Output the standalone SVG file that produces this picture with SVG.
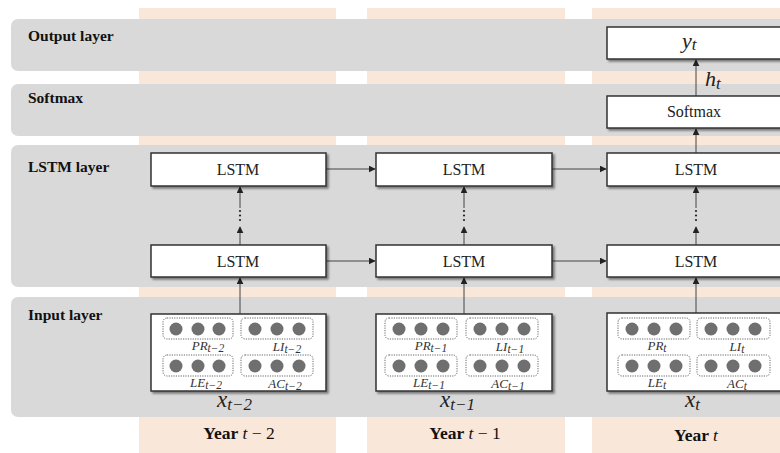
<svg xmlns="http://www.w3.org/2000/svg" width="780" height="453" viewBox="0 0 780 453">
  <defs>
    <marker id="arr" viewBox="0 0 10 10" refX="9" refY="5" markerWidth="7" markerHeight="7" orient="auto" markerUnits="userSpaceOnUse">
      <path d="M0,0 L10,5 L0,10 z" fill="#222"/>
    </marker>
    <filter id="sh" x="-5%" y="-10%" width="115%" height="130%">
      <feGaussianBlur in="SourceAlpha" stdDeviation="1.2"/>
      <feOffset dx="1.5" dy="1.5" result="o"/>
      <feComponentTransfer><feFuncA type="linear" slope="0.45"/></feComponentTransfer>
      <feMerge><feMergeNode/><feMergeNode in="SourceGraphic"/></feMerge>
    </filter>
  </defs>
  <style>
    .col { fill: #f9e7da; }
    .band { fill: #d9d9d9; }
    .lbl { font-family: "Liberation Serif", "Times New Roman", serif; font-weight: bold; font-size: 15.5px; fill: #111; }
    .box { fill: #fff; stroke: #333; stroke-width: 1.5; }
    .txt { font-family: "Liberation Serif", "Times New Roman", serif; font-size: 16px; fill: #222; text-anchor: middle; }
    .math { font-family: "Liberation Serif", "DejaVu Serif", serif; font-style: italic; fill: #222; }
    .grp { fill: none; stroke: #666; stroke-width: 1; stroke-dasharray: 1.2 1.2; }
    .dot { fill: #6f6f6f; }
    .sub { font-family: "Liberation Serif", "DejaVu Serif", serif; font-style: italic; font-size: 13px; fill: #333; text-anchor: middle; }
    .edge { stroke: #444; stroke-width: 1; fill: none; marker-end: url(#arr); }
    .yr { font-family: "Liberation Serif", "Times New Roman", serif; font-size: 17.5px; fill: #111; text-anchor: middle; }
  </style>

  <!-- time-step columns -->
  <g id="columns">
    <rect class="col" x="139" y="8" width="197" height="445"/>
    <rect class="col" x="367" y="8" width="198" height="445"/>
    <rect class="col" x="592" y="8" width="188" height="445"/>
  </g>

  <!-- layer bands -->
  <g id="bands">
    <rect class="band" x="11" y="19" width="790" height="52" rx="7"/>
    <rect class="band" x="11" y="84" width="790" height="52" rx="7"/>
    <rect class="band" x="11" y="145" width="790" height="142" rx="7"/>
    <rect class="band" x="11" y="297" width="790" height="120" rx="7"/>
    <text class="lbl" x="28" y="41">Output layer</text>
    <text class="lbl" x="28" y="103">Softmax</text>
    <text class="lbl" x="28" y="172">LSTM layer</text>
    <text class="lbl" x="28" y="320">Input layer</text>
  </g>

  <!-- connectors -->
  <g id="connectors">
    <line class="edge" x1="326" y1="169" x2="375" y2="169"/>
    <line class="edge" x1="552" y1="169" x2="606" y2="169"/>
    <line class="edge" x1="326" y1="261" x2="375" y2="261"/>
    <line class="edge" x1="552" y1="261" x2="606" y2="261"/>

    <line class="edge" x1="240" y1="314" x2="240" y2="278"/>
    <line class="edge" x1="240" y1="245" x2="240" y2="227"/>
    <line class="edge" x1="240" y1="208" x2="240" y2="187"/>

    <line class="edge" x1="464" y1="314" x2="464" y2="278"/>
    <line class="edge" x1="464" y1="245" x2="464" y2="227"/>
    <line class="edge" x1="464" y1="208" x2="464" y2="187"/>

    <line class="edge" x1="696" y1="314" x2="696" y2="278"/>
    <line class="edge" x1="696" y1="245" x2="696" y2="227"/>
    <line class="edge" x1="696" y1="208" x2="696" y2="187"/>
    <line class="edge" x1="696" y1="153" x2="696" y2="129"/>
    <line class="edge" x1="696" y1="96" x2="696" y2="60"/>

    <g fill="#222">
      <circle cx="240" cy="211" r="1.1"/><circle cx="240" cy="215.5" r="1.1"/><circle cx="240" cy="220" r="1.1"/>
      <circle cx="464" cy="211" r="1.1"/><circle cx="464" cy="215.5" r="1.1"/><circle cx="464" cy="220" r="1.1"/>
      <circle cx="696" cy="211" r="1.1"/><circle cx="696" cy="215.5" r="1.1"/><circle cx="696" cy="220" r="1.1"/>
    </g>
    <text class="math" x="705" y="86" font-size="22">h<tspan font-size="17" dy="3">t</tspan></text>
  </g>

  <!-- output and softmax -->
  <g id="output_yt">
    <rect class="box" x="607" y="27" width="180" height="32" filter="url(#sh)"/>
    <text class="math" x="682" y="48" font-size="22">y<tspan font-size="17" dy="2">t</tspan></text>
  </g>
  <g id="softmax_t">
    <rect class="box" x="607" y="96" width="180" height="32" filter="url(#sh)"/>
    <text class="txt" x="694" y="117" font-size="15">Softmax</text>
  </g>

  <!-- LSTM cells -->
  <g id="lstm_top_t2">
    <rect class="box" x="151" y="153" width="175" height="33" filter="url(#sh)"/>
    <text class="txt" x="238" y="175">LSTM</text>
  </g>
  <g id="lstm_top_t1">
    <rect class="box" x="376" y="153" width="176" height="33" filter="url(#sh)"/>
    <text class="txt" x="464" y="175">LSTM</text>
  </g>
  <g id="lstm_top_t">
    <rect class="box" x="607" y="153" width="180" height="33" filter="url(#sh)"/>
    <text class="txt" x="696" y="175">LSTM</text>
  </g>
  <g id="lstm_bot_t2">
    <rect class="box" x="151" y="245" width="175" height="32" filter="url(#sh)"/>
    <text class="txt" x="238" y="267">LSTM</text>
  </g>
  <g id="lstm_bot_t1">
    <rect class="box" x="376" y="245" width="176" height="32" filter="url(#sh)"/>
    <text class="txt" x="464" y="267">LSTM</text>
  </g>
  <g id="lstm_bot_t">
    <rect class="box" x="607" y="245" width="180" height="32" filter="url(#sh)"/>
    <text class="txt" x="696" y="267">LSTM</text>
  </g>

  <!-- input vectors -->
  <g id="input_t2">
    <rect class="box" x="151" y="314" width="175" height="77" filter="url(#sh)"/>
    <rect class="grp" x="163" y="318" width="70" height="21" rx="4"/>
    <rect class="grp" x="241" y="318" width="72" height="21" rx="4"/>
    <rect class="grp" x="163" y="355" width="70" height="21" rx="4"/>
    <rect class="grp" x="241" y="355" width="72" height="21" rx="4"/>
    <g class="dot">
      <circle cx="176" cy="329" r="6.5"/><circle cx="198" cy="329" r="6.5"/><circle cx="219" cy="329" r="6.5"/>
      <circle cx="255" cy="329" r="6.5"/><circle cx="277" cy="329" r="6.5"/><circle cx="299" cy="329" r="6.5"/>
      <circle cx="176" cy="366" r="6.5"/><circle cx="198" cy="366" r="6.5"/><circle cx="219" cy="366" r="6.5"/>
      <circle cx="255" cy="366" r="6.5"/><circle cx="277" cy="366" r="6.5"/><circle cx="299" cy="366" r="6.5"/>
    </g>
    <text class="sub" x="208" y="350">PR<tspan font-size="11.5" dy="2">t−2</tspan></text>
    <text class="sub" x="287" y="351">LI<tspan font-size="11.5" dy="2">t−2</tspan></text>
    <text class="sub" x="206" y="387">LE<tspan font-size="11.5" dy="2">t−2</tspan></text>
    <text class="sub" x="285" y="388">AC<tspan font-size="11.5" dy="2">t−2</tspan></text>
    <text class="math" x="217" y="407" font-size="23">x<tspan font-size="17" dy="3">t−2</tspan></text>
  </g>
  <g id="input_t1">
    <rect class="box" x="376" y="314" width="176" height="77" filter="url(#sh)"/>
    <rect class="grp" x="385" y="318" width="72" height="21" rx="4"/>
    <rect class="grp" x="466" y="318" width="72" height="21" rx="4"/>
    <rect class="grp" x="385" y="355" width="72" height="21" rx="4"/>
    <rect class="grp" x="466" y="355" width="72" height="21" rx="4"/>
    <g class="dot">
      <circle cx="399" cy="329" r="6.5"/><circle cx="421" cy="329" r="6.5"/><circle cx="443" cy="329" r="6.5"/>
      <circle cx="480" cy="329" r="6.5"/><circle cx="502" cy="329" r="6.5"/><circle cx="524" cy="329" r="6.5"/>
      <circle cx="399" cy="366" r="6.5"/><circle cx="421" cy="366" r="6.5"/><circle cx="443" cy="366" r="6.5"/>
      <circle cx="480" cy="366" r="6.5"/><circle cx="502" cy="366" r="6.5"/><circle cx="524" cy="366" r="6.5"/>
    </g>
    <text class="sub" x="431" y="350">PR<tspan font-size="11.5" dy="2">t−1</tspan></text>
    <text class="sub" x="510" y="351">LI<tspan font-size="11.5" dy="2">t−1</tspan></text>
    <text class="sub" x="429" y="387">LE<tspan font-size="11.5" dy="2">t−1</tspan></text>
    <text class="sub" x="508" y="388">AC<tspan font-size="11.5" dy="2">t−1</tspan></text>
    <text class="math" x="440" y="407" font-size="23">x<tspan font-size="17" dy="3">t−1</tspan></text>
  </g>
  <g id="input_t">
    <rect class="box" x="607" y="313" width="180" height="78" filter="url(#sh)"/>
    <rect class="grp" x="618" y="318" width="72" height="21" rx="4"/>
    <rect class="grp" x="697" y="318" width="73" height="21" rx="4"/>
    <rect class="grp" x="618" y="355" width="72" height="21" rx="4"/>
    <rect class="grp" x="697" y="355" width="73" height="21" rx="4"/>
    <g class="dot">
      <circle cx="632" cy="329" r="6.5"/><circle cx="654" cy="329" r="6.5"/><circle cx="676" cy="329" r="6.5"/>
      <circle cx="711" cy="329" r="6.5"/><circle cx="733" cy="329" r="6.5"/><circle cx="755" cy="329" r="6.5"/>
      <circle cx="632" cy="366" r="6.5"/><circle cx="654" cy="366" r="6.5"/><circle cx="676" cy="366" r="6.5"/>
      <circle cx="711" cy="366" r="6.5"/><circle cx="733" cy="366" r="6.5"/><circle cx="755" cy="366" r="6.5"/>
    </g>
    <text class="sub" x="657" y="350">PR<tspan font-size="11.5" dy="2">t</tspan></text>
    <text class="sub" x="737" y="351">LI<tspan font-size="11.5" dy="2">t</tspan></text>
    <text class="sub" x="657" y="387">LE<tspan font-size="11.5" dy="2">t</tspan></text>
    <text class="sub" x="737" y="388">AC<tspan font-size="11.5" dy="2">t</tspan></text>
    <text class="math" x="685" y="407" font-size="23">x<tspan font-size="17" dy="3">t</tspan></text>
  </g>

  <!-- year captions -->
  <g id="years">
    <text class="yr" x="239" y="439"><tspan font-weight="bold">Year </tspan><tspan font-style="italic">t</tspan> − 2</text>
    <text class="yr" x="465" y="439"><tspan font-weight="bold">Year </tspan><tspan font-style="italic">t</tspan> − 1</text>
    <text class="yr" x="696" y="441"><tspan font-weight="bold">Year </tspan><tspan font-style="italic">t</tspan></text>
  </g>
</svg>
